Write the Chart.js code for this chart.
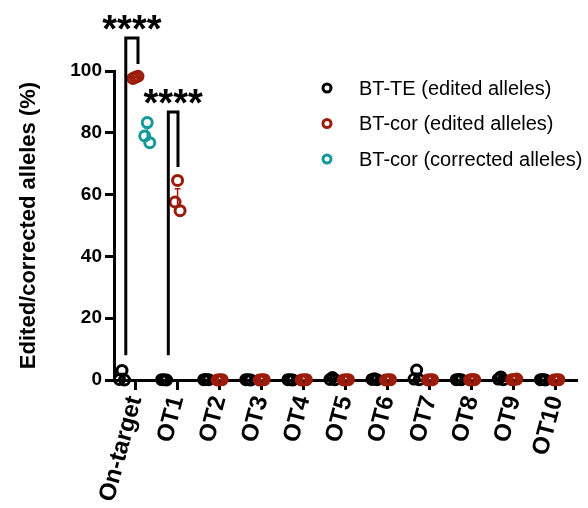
<!DOCTYPE html>
<html><head><meta charset="utf-8">
<script src="https://cdn.jsdelivr.net/npm/chart.js@4/dist/chart.umd.min.js"></script>
<style>html,body{margin:0;padding:0;background:#fff}#wrap{width:588px;height:508px;position:relative}</style>
</head><body><div id="wrap"><canvas id="c"></canvas></div>
<script>
const categories = ['On-target','OT1','OT2','OT3','OT4','OT5','OT6','OT7','OT8','OT9','OT10'];
const seriesNames = ['BT-TE (edited alleles)','BT-cor (edited alleles)','BT-cor (corrected alleles)'];
const yTicks = [0,20,40,60,80,100];
const btTeEdited = [[3.1,0.2,0.0],[0.1,0.1,0.0],[0.2,0.1,0.1],[0.1,0.1,0.0],[0.1,0.1,0.0],[0.8,0.2,0.1],[0.4,0.2,0.1],[3.2,0.3,0.1],[0.2,0.1,0.1],[1.0,0.3,0.1],[0.2,0.1,0.0]];
const btCorEdited = [[98.0,97.6,98.3],[64.6,57.6,54.8],[0.1,0.0,0.1],[0.1,0.0,0.1],[0.1,0.0,0.1],[0.1,0.0,0.1],[0.1,0.0,0.1],[0.1,0.0,0.1],[0.2,0.0,0.1],[0.2,0.1,0.3],[0.1,0.0,0.1]];
const btCorCorrected = [[83.3,79.0,76.8],[],[],[],[],[],[],[],[],[],[]];
const significance = ['****','****'];

const colors = ['#000000','#9c1c0c','#14999b'];
const groupOffset = [-0.31, 0.01, 0.29];
const jitter = [0, -0.06, 0.06];
const FONT = '"Liberation Sans", Arial, sans-serif';

function toPoints(series, g){
  const pts = [];
  series.forEach((vals, ci) => vals.forEach((v, r) => pts.push({x: ci + groupOffset[g] + jitter[r], y: v})));
  return pts;
}
const allSeries = [btTeEdited, btCorEdited, btCorCorrected];
const datasets = allSeries.map((s, g) => ({
  label: seriesNames[g],
  data: toPoints(s, g),
  borderColor: colors[g],
  backgroundColor: 'rgba(0,0,0,0)',
  pointRadius: 5,
  pointBorderWidth: 3,
  pointHoverRadius: 5,
  showLine: false,
  clip: false,
  order: 3 - g
}));

const extras = {
  id: 'extras',
  beforeDatasetsDraw(chart){
    const ctx = chart.ctx, xs = chart.scales.x, ys = chart.scales.y;
    ctx.save();
    allSeries.forEach((s, g) => {
      s.forEach((vals, ci) => {
        if (vals.length < 2) return;
        const n = vals.length;
        const m = vals.reduce((a,b)=>a+b,0)/n;
        const sd = Math.sqrt(vals.reduce((a,b)=>a+(b-m)*(b-m),0)/(n-1));
        const sem = sd/Math.sqrt(n);
        const x = xs.getPixelForValue(ci + groupOffset[g]);
        const y1 = ys.getPixelForValue(m - sem), y2 = ys.getPixelForValue(m + sem);
        ctx.strokeStyle = colors[g]; ctx.lineWidth = 1.5;
        ctx.beginPath();
        ctx.moveTo(x, y1); ctx.lineTo(x, y2);
        ctx.moveTo(x-3, y2); ctx.lineTo(x+3, y2);
        ctx.moveTo(x-3, y1); ctx.lineTo(x+3, y1);
        ctx.stroke();
      });
    });
    ctx.restore();
  },
  afterDraw(chart){
    const ctx = chart.ctx, xs = chart.scales.x, ys = chart.scales.y;
    ctx.save();
    const brackets = [
      {x1: 0 - 0.22, x2: 0 + 0.07, yl: 8, yr: 102.3, top: 110.7},
      {x1: 1 - 0.21, x2: 1 + 0.02, yl: 8, yr: 68.9, top: 86.7}
    ];
    ctx.strokeStyle = '#000'; ctx.lineWidth = 3; ctx.lineJoin = 'miter'; ctx.lineCap = 'butt';
    brackets.forEach((b, i) => {
      const X1 = xs.getPixelForValue(b.x1), X2 = xs.getPixelForValue(b.x2);
      const YT = ys.getPixelForValue(b.top);
      ctx.beginPath();
      ctx.moveTo(X1, ys.getPixelForValue(b.yl));
      ctx.lineTo(X1, YT);
      ctx.lineTo(X2, YT);
      ctx.lineTo(X2, ys.getPixelForValue(b.yr));
      ctx.stroke();
      ctx.fillStyle = '#000';
      ctx.font = 'bold 38px ' + FONT;
      ctx.textAlign = 'center'; ctx.textBaseline = 'alphabetic';
      ctx.fillText(significance[i], (X1 + X2)/2, YT + 4);
    });
    const lx = 327, ly0 = 88, dy = 35.5;
    seriesNames.forEach((name, i) => {
      const y = ly0 + i*dy;
      ctx.beginPath();
      ctx.arc(lx, y, 4, 0, Math.PI*2);
      ctx.strokeStyle = colors[i]; ctx.lineWidth = 3; ctx.stroke();
      ctx.fillStyle = '#000';
      ctx.font = '20px ' + FONT;
      ctx.textAlign = 'left'; ctx.textBaseline = 'middle';
      ctx.fillText(name, 359, y + 1);
    });
    ctx.restore();
  }
};

new Chart(document.getElementById('c'), {
  type: 'scatter',
  data: { datasets },
  options: {
    responsive: true,
    maintainAspectRatio: false,
    animation: false,
    events: [],
    layout: { padding: { left: 0, top: 71, right: 11, bottom: 0 } },
    plugins: { legend: { display: false }, tooltip: { enabled: false } },
    scales: {
      x: {
        type: 'linear', min: -0.5, max: 10.5,
        afterBuildTicks: (axis) => { axis.ticks = categories.map((_, i) => ({ value: i })); },
        afterFit: (s) => { s.height = 128; },
        ticks: {
          autoSkip: false, minRotation: 75, maxRotation: 75, padding: 3,
          color: '#000', font: { family: FONT, size: 24, weight: 'bold' },
          callback: (v) => categories[Math.round(v)]
        },
        grid: { drawOnChartArea: false, drawTicks: true, tickLength: 10, tickWidth: 3, tickColor: '#000', color: '#000' },
        border: { display: true, width: 3, color: '#000' }
      },
      y: {
        type: 'linear', min: 0, max: 100,
        afterBuildTicks: (axis) => { axis.ticks = yTicks.map(v => ({ value: v })); },
        afterFit: (s) => { s.width = 114; },
        ticks: { color: '#000', padding: 3, font: { family: FONT, size: 19, weight: 'bold' } },
        grid: { drawOnChartArea: false, drawTicks: true, tickLength: 9, tickWidth: 3, tickColor: '#000', color: '#000' },
        border: { display: true, width: 3, color: '#000' },
        title: { display: true, text: 'Edited/corrected alleles (%)', color: '#000', padding: { top: 16, bottom: 0 }, font: { family: FONT, size: 22, weight: 'bold' } }
      }
    }
  },
  plugins: [extras]
});
</script></body></html>
